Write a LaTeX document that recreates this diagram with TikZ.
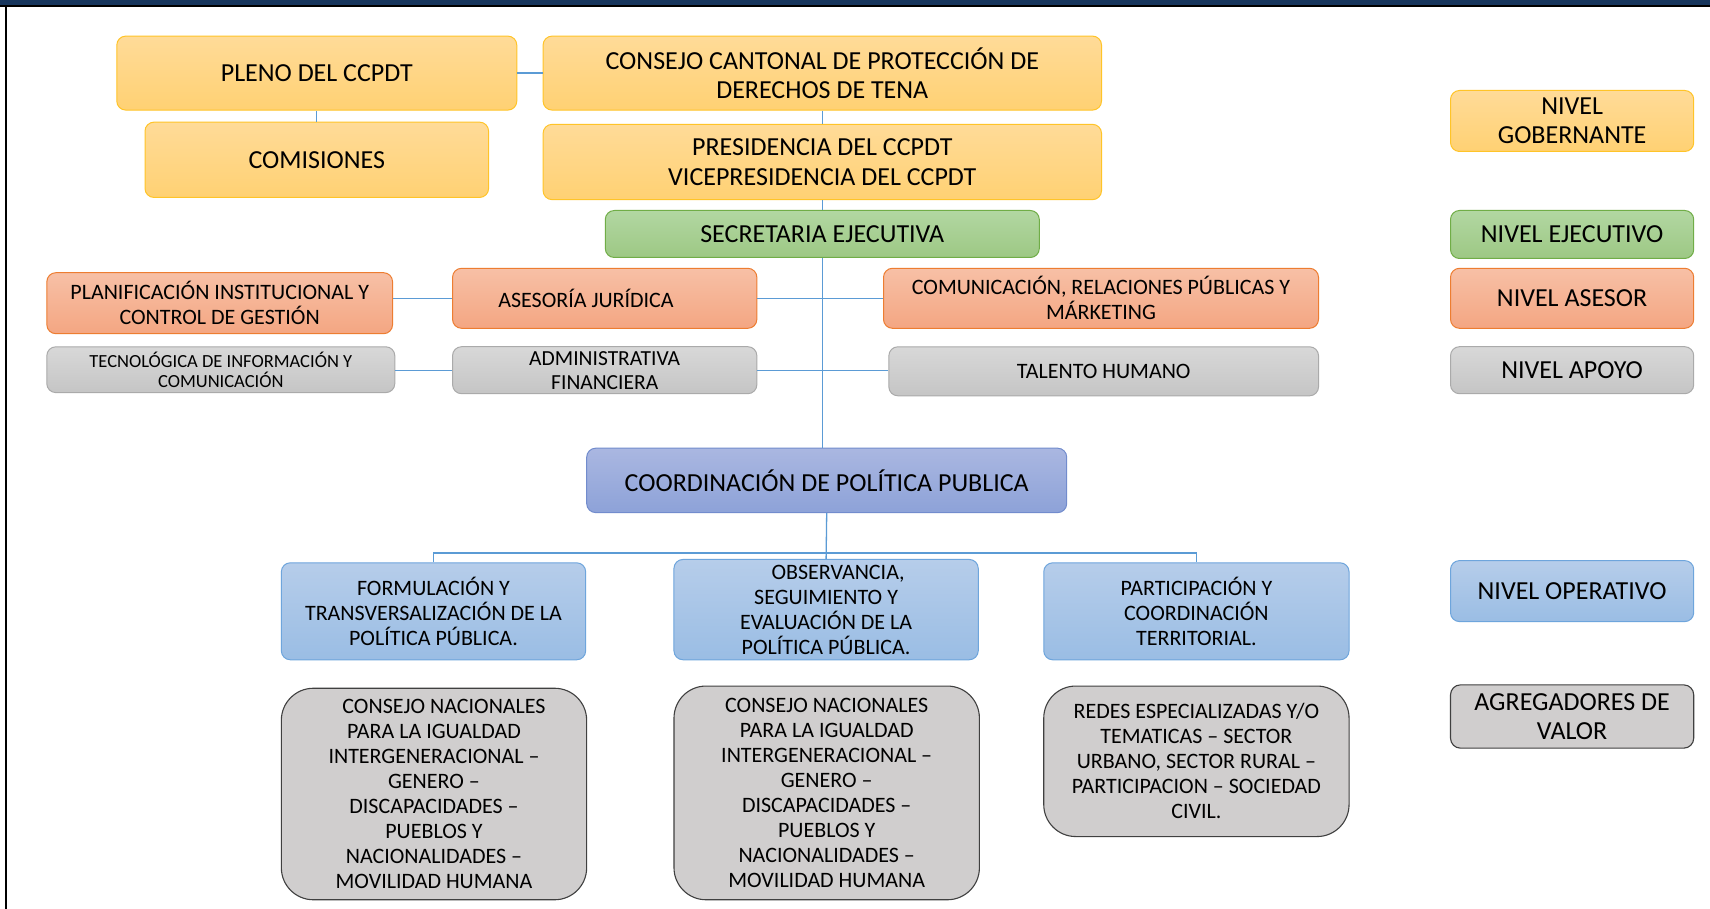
\documentclass[tikz,border=0pt]{standalone}
\usepackage{fontspec}
\setmainfont{Carlito}
\definecolor{goldT}{RGB}{255,219,152}
\definecolor{goldB}{RGB}{255,209,115}
\definecolor{goldD}{RGB}{255,196,40}
\definecolor{greenT}{RGB}{178,215,162}
\definecolor{greenB}{RGB}{157,200,132}
\definecolor{greenD}{RGB}{112,173,71}
\definecolor{orT}{RGB}{247,192,166}
\definecolor{orB}{RGB}{244,166,130}
\definecolor{orD}{RGB}{237,125,49}
\definecolor{grT}{RGB}{216,216,216}
\definecolor{grB}{RGB}{197,197,197}
\definecolor{grD}{RGB}{170,170,170}
\definecolor{puT}{RGB}{170,183,225}
\definecolor{puB}{RGB}{141,162,216}
\definecolor{puD}{RGB}{114,140,205}
\definecolor{blT}{RGB}{182,205,234}
\definecolor{blB}{RGB}{154,189,228}
\definecolor{blD}{RGB}{110,165,220}
\definecolor{valF}{RGB}{208,206,206}
\definecolor{valD}{RGB}{64,64,64}
\definecolor{linkC}{RGB}{91,155,213}
\definecolor{navy}{RGB}{23,54,93}
\tikzset{
  box/.style={rounded corners=9pt, line width=1pt, align=center, inner sep=0pt,
    font=\fontsize{26}{29.5}\selectfont},
  gold/.style={box, top color=goldT, bottom color=goldB, draw=goldD},
  grn/.style={box, top color=greenT, bottom color=greenB, draw=greenD},
  org/.style={box, top color=orT, bottom color=orB, draw=orD},
  gry/.style={box, top color=grT, bottom color=grB, draw=grD},
  pur/.style={box, top color=puT, bottom color=puB, draw=puD},
  blu/.style={box, top color=blT, bottom color=blB, draw=blD},
  valbox/.style={box, rounded corners=32pt, fill=valF, draw=valD, line width=1.1pt},
  smalltext/.style={font=\fontsize{22}{25}\selectfont},
  tinytext/.style={font=\fontsize{18.5}{20.7}\selectfont},
  link/.style={draw=linkC, line width=1.3pt},
}
\begin{document}
\begin{tikzpicture}[x=1pt,y=-1pt]
\useasboundingbox (0,0) rectangle (1710,909);
\fill[white] (0,0) rectangle (1710,909);
% frame
\fill[navy] (0,0) rectangle (1710,5.3);
\fill[black] (0,5.3) rectangle (1710,7);
\fill[black] (5,5.3) rectangle (7,909);

% gobernante
\node[gold, minimum width=400pt, minimum height=74pt] (pleno) at (316.8,73.1) {PLENO DEL CCPDT};
\node[gold, minimum width=343.6pt, minimum height=75.3pt] (comis) at (316.8,159.8) {COMISIONES};
\node[gold, minimum width=558.4pt, minimum height=74pt] (consejo) at (822.3,73.1) {CONSEJO CANTONAL DE PROTECCIÓN DE\\DERECHOS DE TENA};
\node[gold, minimum width=558.4pt, minimum height=75.3pt] (pres) at (822.3,162) {PRESIDENCIA DEL CCPDT\\VICEPRESIDENCIA DEL CCPDT};
% ejecutivo
\node[grn, minimum width=434pt, minimum height=47pt] (secr) at (822.3,234) {SECRETARIA EJECUTIVA};
% asesor
\node[org, smalltext, minimum width=345.7pt, minimum height=61pt] (plan) at (219.7,303.2) {PLANIFICACIÓN INSTITUCIONAL Y\\CONTROL DE GESTIÓN};
\node[org, minimum width=304.3pt, minimum height=60pt] (ases) at (604.7,298.3) {};
\node[smalltext] at (586,298.3) {ASESORÍA JURÍDICA};
\node[org, smalltext, minimum width=435pt, minimum height=60pt] (com) at (1101,298.3) {COMUNICACIÓN, RELACIONES PÚBLICAS Y\\MÁRKETING};
% apoyo
\node[gry, tinytext, minimum width=348pt, minimum height=45.8pt] (tec) at (220.8,369.7) {TECNOLÓGICA DE INFORMACIÓN Y\\COMUNICACIÓN};
\node[gry, font=\fontsize{21.5}{24}\selectfont, minimum width=304.3pt, minimum height=47pt] (adm) at (604.7,370.2) {ADMINISTRATIVA\\FINANCIERA};
\node[gry, smalltext, minimum width=429.7pt, minimum height=49pt] (tal) at (1103.7,371.3) {TALENTO HUMANO};
% operativo
\node[pur, minimum width=480pt, minimum height=64.4pt] (coord) at (826.7,480.4) {COORDINACIÓN DE POLÍTICA PUBLICA};
\node[blu, smalltext, minimum width=304.3pt, minimum height=97pt] (form) at (433.5,611.3) {FORMULACIÓN Y\\TRANSVERSALIZACIÓN DE LA\\POLÍTICA PÚBLICA.};
\node[blu, smalltext, minimum width=304.3pt, minimum height=100.3pt] (obs) at (826.1,609.6) {\hspace*{24pt}OBSERVANCIA,\\SEGUIMIENTO Y\\EVALUACIÓN DE LA\\POLÍTICA PÚBLICA.};
\node[blu, smalltext, minimum width=305.3pt, minimum height=97pt] (part) at (1196.4,611.3) {PARTICIPACIÓN Y\\COORDINACIÓN\\TERRITORIAL.};
% agregadores de valor
\node[valbox, smalltext, minimum width=305.3pt, minimum height=211.5pt] (cn1) at (434,794) {\hspace*{20pt}CONSEJO NACIONALES\\PARA LA IGUALDAD\\INTERGENERACIONAL –\\GENERO –\\DISCAPACIDADES –\\PUEBLOS Y\\NACIONALIDADES –\\MOVILIDAD HUMANA};
\node[valbox, smalltext, minimum width=305.4pt, minimum height=213.7pt] (cn2) at (826.7,792.9) {CONSEJO NACIONALES\\PARA LA IGUALDAD\\INTERGENERACIONAL –\\GENERO –\\DISCAPACIDADES –\\PUEBLOS Y\\NACIONALIDADES –\\MOVILIDAD HUMANA};
\node[valbox, smalltext, minimum width=305.3pt, minimum height=150.5pt] (redes) at (1196.4,761.3) {REDES ESPECIALIZADAS Y/O\\TEMATICAS – SECTOR\\URBANO, SECTOR RURAL –\\PARTICIPACION – SOCIEDAD\\CIVIL.};
% legend
\node[gold, font=\fontsize{26}{28.5}\selectfont, minimum width=243.2pt, minimum height=61pt] (lg1) at (1572.1,121) {NIVEL\\GOBERNANTE};
\node[grn, minimum width=243.2pt, minimum height=48pt] (lg2) at (1572.1,234.5) {NIVEL EJECUTIVO};
\node[org, minimum width=243.2pt, minimum height=60pt] (lg3) at (1572.1,298.3) {NIVEL ASESOR};
\node[gry, minimum width=243.2pt, minimum height=47pt] (lg4) at (1572.1,370.2) {NIVEL APOYO};
\node[blu, minimum width=243.2pt, minimum height=61pt] (lg5) at (1572.1,591.1) {NIVEL OPERATIVO};
\node[valbox, rounded corners=10pt, minimum width=243.2pt, minimum height=63.3pt] (lg6) at (1572.1,716.5) {AGREGADORES DE\\VALOR};

% connectors
\draw[link] (pleno.east) -- (consejo.west);
\draw[link] (comis.north) -- (comis.north |- pleno.south);
\draw[link] (consejo.south) -- (pres.north);
\draw[link] (pres.south) -- (secr.north);
\draw[link] (secr.south) -- (secr.south |- coord.north);
\draw[link] (ases.west) -- (ases.west -| plan.east);
\draw[link] (ases.east) -- (com.west);
\draw[link] (adm.west) -- (adm.west -| tec.east);
\draw[link] (adm.east) -- (adm.east -| tal.west);
\coordinate (bar) at (826.4,553);
\draw[link] (coord.south) -- (obs.north);
\draw[link] (form.north) -- (form.north |- bar) -- (part.north |- bar) -- (part.north);
\end{tikzpicture}
\end{document}
